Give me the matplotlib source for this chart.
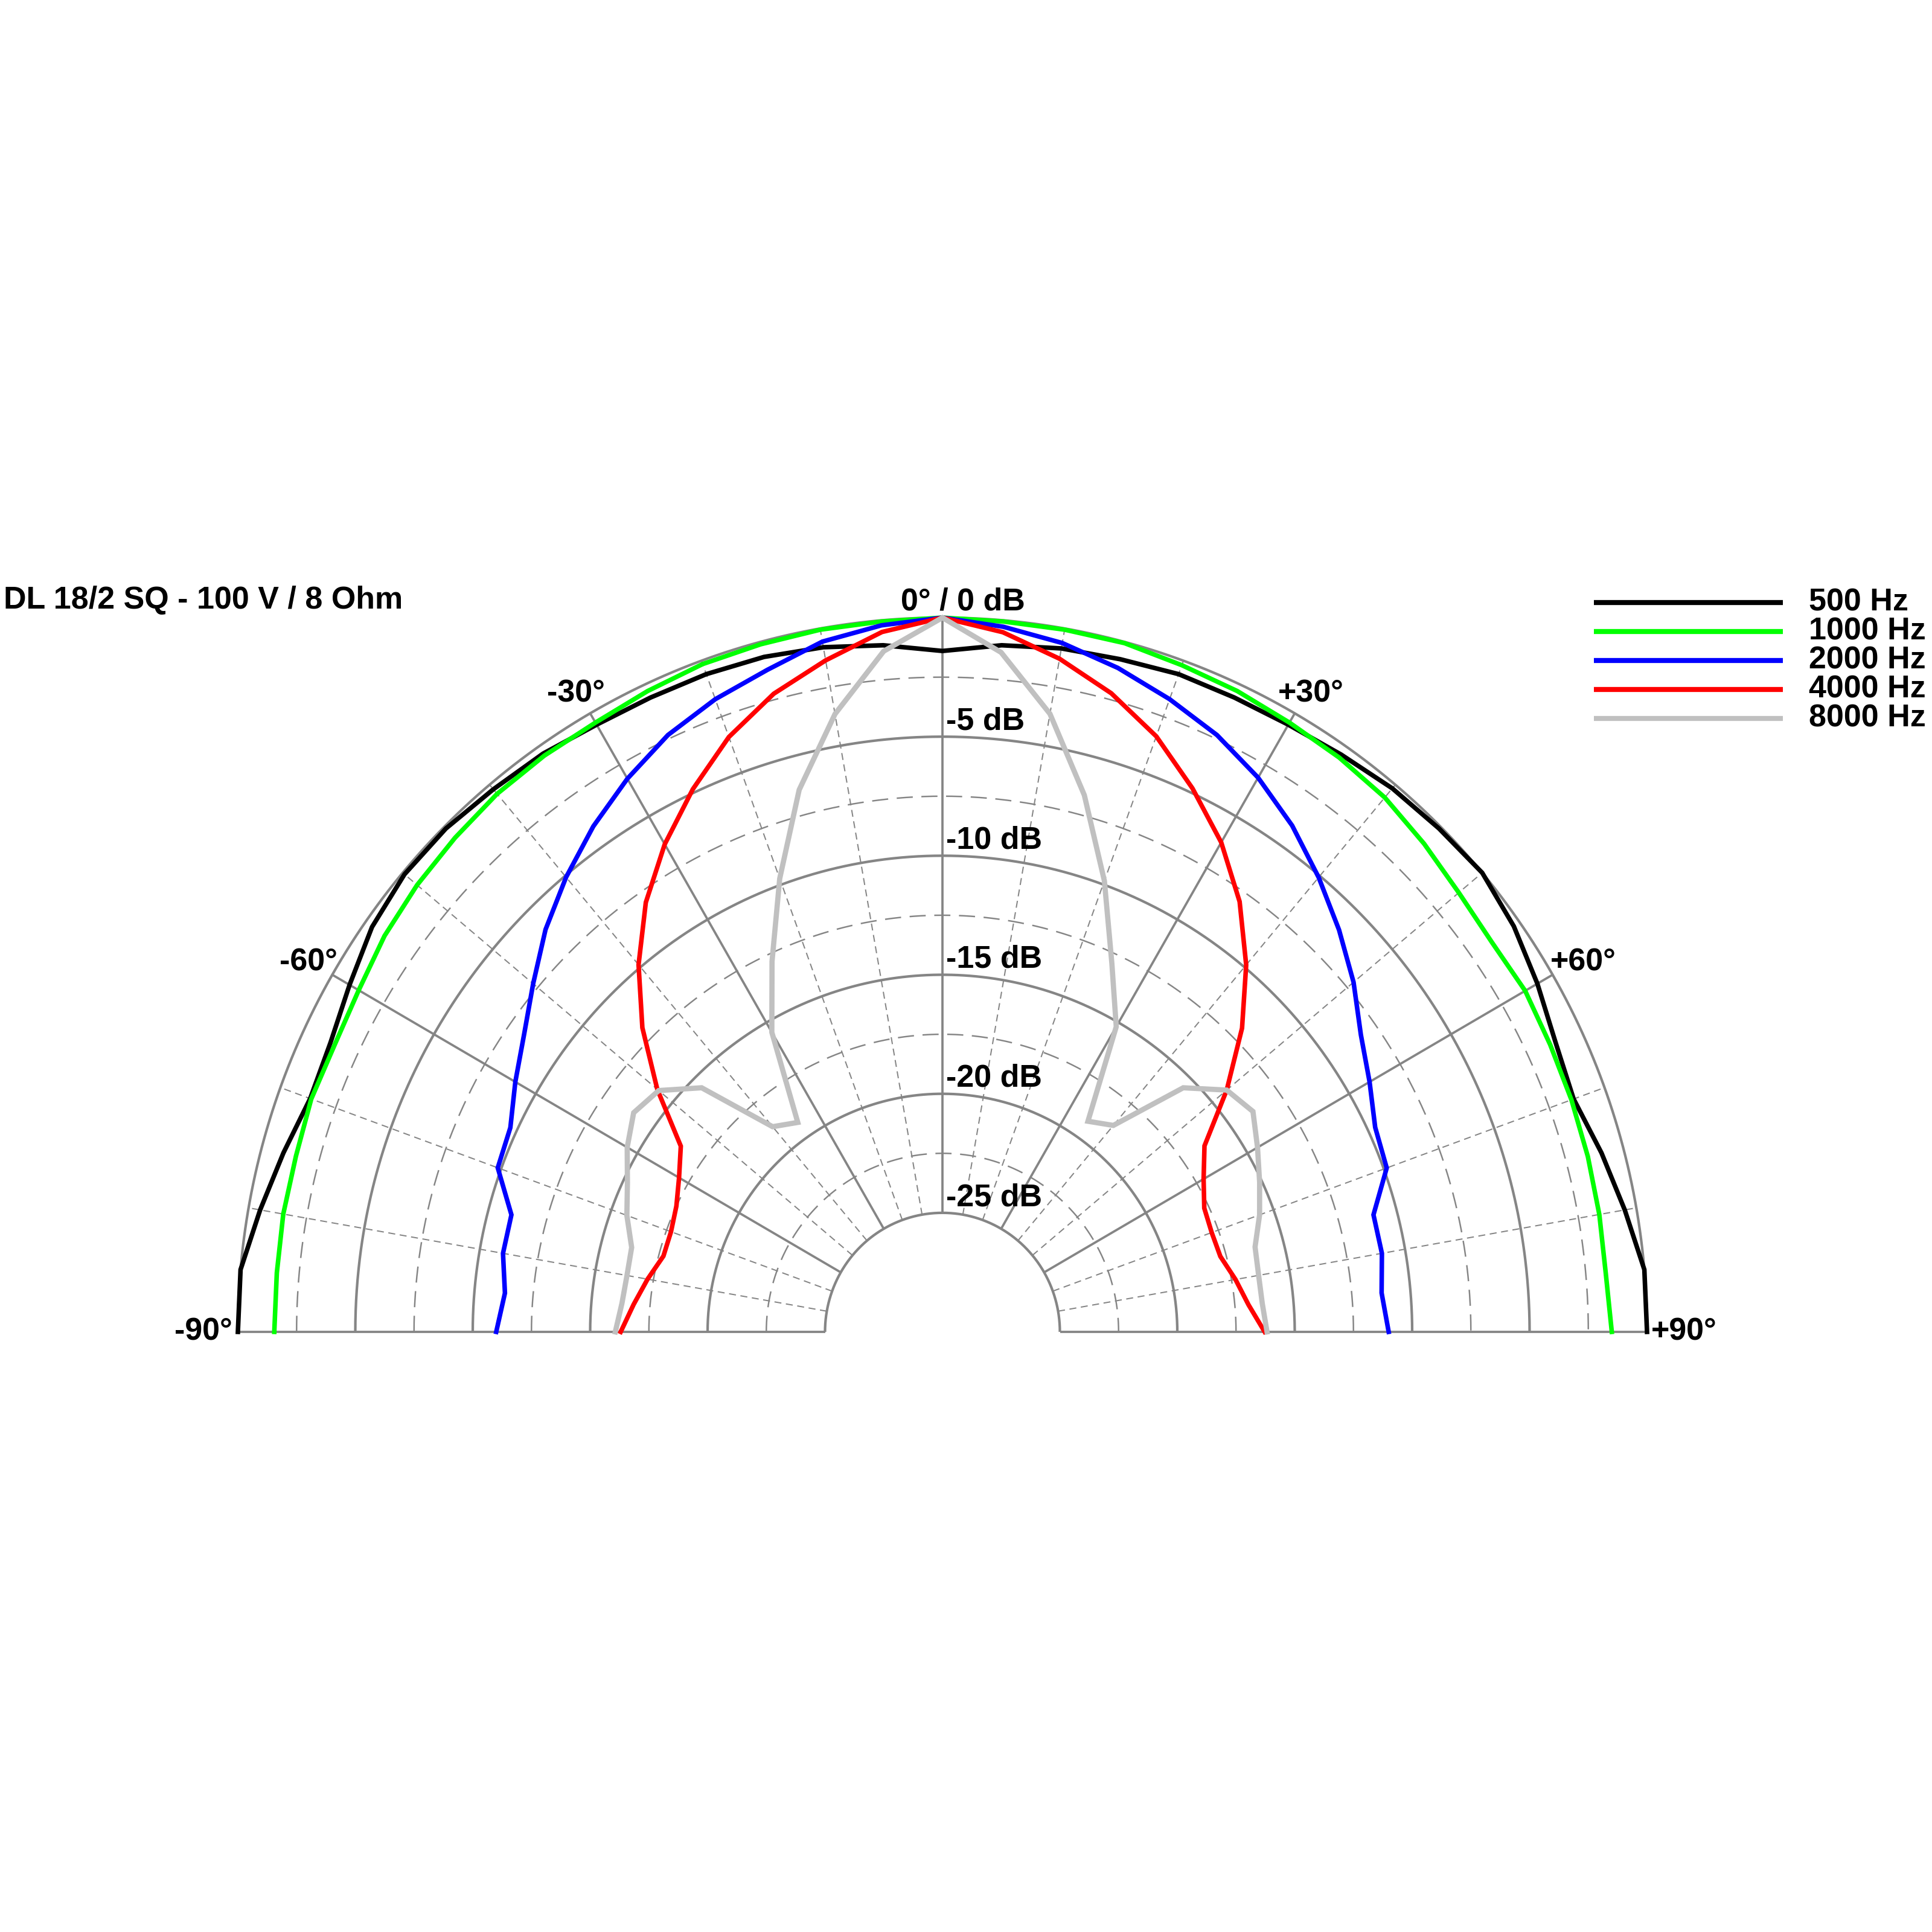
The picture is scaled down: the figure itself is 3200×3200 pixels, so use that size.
import numpy as np
import matplotlib
matplotlib.use("Agg")
import matplotlib.pyplot as plt
from matplotlib.lines import Line2D

plt.rcParams['font.family'] = ['Liberation Sans', 'DejaVu Sans']
plt.rcParams['font.weight'] = 'bold'
plt.rcParams['lines.scale_dashes'] = False

# ---------------- data ----------------
title = "DL 18/2 SQ - 100 V / 8 Ohm"
angles = list(range(-90, 95, 5))  # degrees, -90 ... +90

freq_labels = ["500 Hz", "1000 Hz", "2000 Hz", "4000 Hz", "8000 Hz"]
colors = ["#000000", "#00ff00", "#0000ff", "#ff0000", "#c0c0c0"]

db_500 = [0.0, 0.0, -0.5, -0.95, -1.35, -1.25, -0.85, -0.35, -0.1, -0.1,
          -0.25, -0.35, -0.55, -0.6, -0.6, -0.65, -0.8, -1.05, -1.4,
          -1.05, -0.85, -0.75, -0.6, -0.6, -0.55, -0.4, -0.2, -0.1,
          0.0, -0.3, -0.75, -1.2, -1.4, -0.95, -0.5, 0.0, 0.0]
db_1000 = [-1.55, -1.55, -1.5, -1.5, -1.4, -1.45, -1.3, -1.0, -0.8, -0.65,
           -0.5, -0.45, -0.45, -0.3, -0.15, -0.1, -0.05, -0.05, 0.0,
           -0.05, -0.05, -0.05, -0.2, -0.3, -0.45, -0.55, -0.7, -1.0,
           -1.3, -1.45, -1.35, -1.45, -1.5, -1.55, -1.6, -1.65, -1.5]
db_2000 = [-11.0, -11.3, -11.0, -11.0, -9.85, -9.7, -9.0, -8.25, -7.25, -6.1,
           -5.07, -4.08, -3.17, -2.34, -1.72, -1.21, -0.56, -0.21, 0.0,
           -0.27, -0.62, -1.13, -1.72, -2.34, -3.12, -4.04, -5.08, -6.12,
           -7.15, -8.25, -9.0, -9.67, -9.87, -11.0, -11.0, -11.23, -11.0]
db_4000 = [-16.3, -16.8, -17.25, -17.7, -17.7, -17.5, -17.05, -16.4, -14.15, -11.93,
           -9.87, -7.98, -6.35, -4.85, -3.41, -2.25, -1.36, -0.49, 0.0,
           -0.5, -1.29, -2.23, -3.38, -4.81, -6.26, -7.94, -9.88, -11.96,
           -14.2, -16.38, -17.16, -17.7, -17.8, -17.75, -17.33, -16.92, -16.28]
db_8000 = [-16.07, -16.3, -16.36, -16.3, -15.7, -15.2, -14.5, -13.95, -14.23, -15.5,
           -18.75, -19.26, -15.47, -12.83, -9.74, -6.43, -3.65, -1.3, 0.0,
           -1.35, -3.64, -6.66, -9.84, -12.93, -15.2, -19.2, -18.68, -15.5,
           -14.2, -13.86, -14.51, -15.1, -15.63, -16.22, -16.33, -16.33, -16.18]
series = [db_500, db_1000, db_2000, db_4000, db_8000]

db_rings = [-25, -20, -15, -10, -5, 0]
db_half_rings = [-22.5, -17.5, -12.5, -7.5, -2.5]
major_angles = [-90, -60, -30, 0, 30, 60, 90]
minor_angles = [-80, -70, -50, -40, -20, -10, 10, 20, 40, 50, 70, 80]
major_angle_labels = ["-90°", "-60°", "-30°", "0° / 0 dB", "+30°", "+60°", "+90°"]
db_labels = ["-5 dB", "-10 dB", "-15 dB", "-20 dB", "-25 dB"]
db_label_values = [-5, -10, -15, -20, -25]

# ---------------- figure ----------------
OFFSET = 30  # r = dB + OFFSET
W = 3200
fig = plt.figure(figsize=(10, 10), dpi=320)
cx, cy, Rx, Ry = 1561, 2206, 1167, 1183
ax = fig.add_axes([(cx - Rx) / W, (W - cy - Ry) / W, 2 * Rx / W, 2 * Ry / W],
                  projection='polar')
ax.set_theta_zero_location('N')
ax.set_theta_direction(-1)
ax.set_ylim(0, OFFSET)
ax.set_aspect('auto')
ax.set_axis_off()

grid_col = '#858585'
th_fine = np.deg2rad(np.linspace(-90, 90, 721))
for d in db_rings:
    ax.plot(th_fine, np.full_like(th_fine, d + OFFSET), color=grid_col, lw=0.95,
            solid_capstyle='butt', zorder=1, clip_on=False)
for d in db_half_rings:
    ax.plot(th_fine, np.full_like(th_fine, d + OFFSET), color=grid_col, lw=0.55,
            linestyle=(0, (6.0, 3.2)), zorder=1, clip_on=False)
rin, rout = db_rings[0] + OFFSET, db_rings[-1] + OFFSET
for a in major_angles:
    t = np.deg2rad(a)
    ax.plot([t, t], [rin, rout], color=grid_col, lw=0.85, zorder=1,
            solid_capstyle='butt', clip_on=False)
for a in minor_angles:
    t = np.deg2rad(a)
    ax.plot([t, t], [rin, rout], color=grid_col, lw=0.45, zorder=1,
            linestyle=(0, (2.6, 1.7)), clip_on=False)

th = np.deg2rad(angles)
for vals, col, lab in zip(series, colors, freq_labels):
    lw = 1.95 if col == "#c0c0c0" else 1.7
    ax.plot(th, np.array(vals) + OFFSET, color=col, lw=lw, zorder=3,
            solid_joinstyle='miter', label=lab, clip_on=False)

FS = 11.7
# angle labels (offsets in points)
label_offsets = {
    -90: (-2.0, 0.0, 'right'),
    -60: (-8.8, 4.5, 'center'),
    -30: (-5.4, 7.4, 'center'),
    0: (7.7, 5.9, 'center'),
    30: (6.1, 7.4, 'center'),
    60: (11.5, 4.5, 'center'),
    90: (1.6, 0.0, 'left'),
}
for a, lab in zip(major_angles, major_angle_labels):
    dx, dy, ha = label_offsets[a]
    ax.annotate(lab, xy=(np.deg2rad(a), rout), xytext=(dx, dy),
                textcoords='offset points', ha=ha, va='center',
                fontsize=FS, fontweight='bold', zorder=5)
for v, lab in zip(db_label_values, db_labels):
    ax.annotate(lab, xy=(0, v + OFFSET), xytext=(1.4, 5.7),
                textcoords='offset points', ha='left', va='center',
                fontsize=FS, fontweight='bold', zorder=5)

fig.text(6 / W, 1 - 994 / W, title, ha='left', va='center',
         fontsize=FS, fontweight='bold')

# legend (manual)
ly0 = 998
ldy = 48.1
for i, (lab, col) in enumerate(zip(freq_labels, colors)):
    y = 1 - (ly0 + i * ldy) / W
    fig.add_artist(Line2D([2640 / W, 2953 / W], [y, y], color=col, lw=1.87,
                          transform=fig.transFigure, solid_capstyle='butt'))
    fig.text(2996 / W, y, lab, ha='left', va='center',
             fontsize=FS, fontweight='bold')

fig.savefig('out.png', dpi=320, facecolor='white')
